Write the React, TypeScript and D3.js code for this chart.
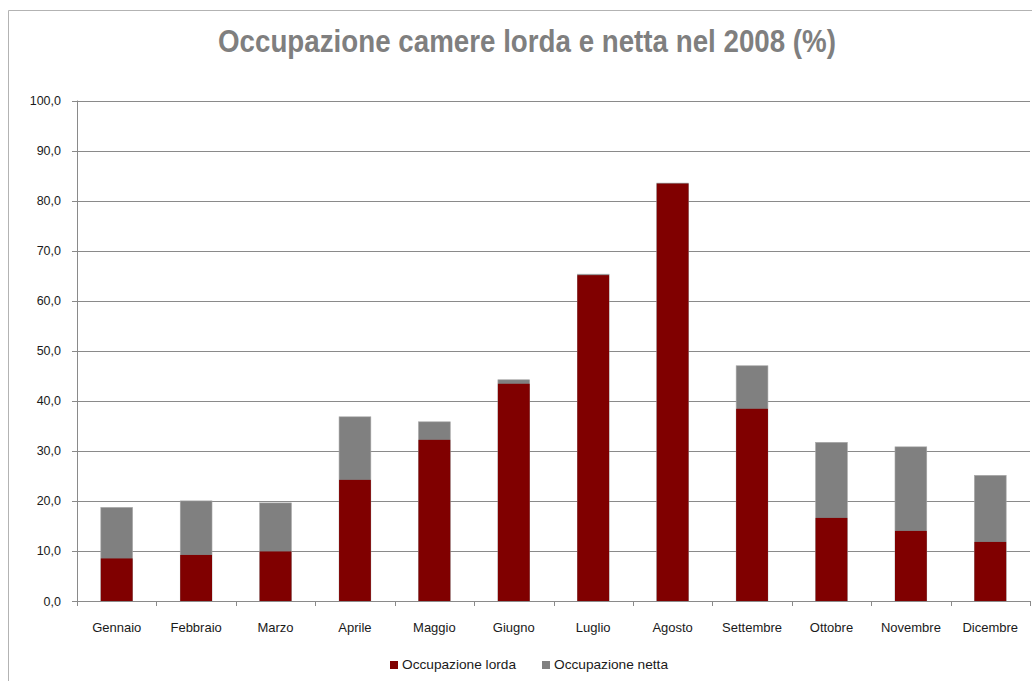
import * as d3 from 'd3';

const months = ['Gennaio', 'Febbraio', 'Marzo', 'Aprile', 'Maggio', 'Giugno', 'Luglio', 'Agosto', 'Settembre', 'Ottobre', 'Novembre', 'Dicembre'];
const lorda = [8.5, 9.2, 9.9, 24.2, 32.2, 43.4, 65.1, 83.4, 38.4, 16.6, 14.0, 11.8];
const netta = [18.7, 20.0, 19.6, 36.8, 35.8, 44.2, 65.3, 83.5, 47.0, 31.7, 30.8, 25.1];
const yTicks = [0, 10, 20, 30, 40, 50, 60, 70, 80, 90, 100];

const W = 1032, H = 681;
const margin = { left: 77, right: 2, top: 100.5, bottom: 80 };
const font = '"Liberation Sans", Arial, sans-serif';

export default function App() {
    const x = d3.scaleBand()
        .domain(months)
        .range([margin.left, W - margin.right])
        .paddingInner(0.6)
        .paddingOuter(0.3);

    const y = d3.scaleLinear()
        .domain([0, 100])
        .range([H - margin.bottom, margin.top]);

    const step = x.step();
    const x0 = margin.left, x1 = W - margin.right;
    const fmt = (v: number) => v.toFixed(1).replace('.', ',');

    return (
        <svg width={W} height={H} style={{ position: 'absolute', left: 0, top: 0 }} fontFamily={font}>
            <rect x={0} y={0} width={W} height={H} fill="#fff" />
            {/* outer frame */}
            <path d={`M8.5,${H} V10.5 H${W}`} fill="none" stroke="#b3b3b3" />

            <text x={527} y={52} textAnchor="middle" fontSize={32} fontWeight="bold" fill="#7f7f7f"
                textLength={618} lengthAdjust="spacingAndGlyphs">
                Occupazione camere lorda e netta nel 2008 (%)
            </text>

            {/* gridlines + y labels */}
            {yTicks.map(t => (
                <g key={t}>
                    {t > 0 && <line x1={x0} x2={x1} y1={Math.round(y(t)) + 0.5} y2={Math.round(y(t)) + 0.5} stroke="#8a8a8a" />}
                    <line x1={x0 - 5} x2={x0} y1={Math.round(y(t)) + 0.5} y2={Math.round(y(t)) + 0.5} stroke="#8a8a8a" />
                    <text x={61} y={y(t) + 4.5} textAnchor="end" fontSize={12.5} fill="#1a1a1a">{fmt(t)}</text>
                </g>
            ))}

            {/* bars: netta behind, lorda in front */}
            {months.map((m, i) => (
                <g key={m}>
                    <rect x={x(m)} y={y(netta[i])} width={x.bandwidth()} height={y(0) - y(netta[i])} fill="#808080" stroke="#a6a6a6" strokeWidth={0.6} />
                    <rect x={x(m)} y={y(lorda[i])} width={x.bandwidth()} height={y(0) - y(lorda[i])} fill="#800000" />
                </g>
            ))}

            {/* axes */}
            <line x1={x0 + 0.5} x2={x0 + 0.5} y1={y(100)} y2={y(0)} stroke="#8a8a8a" />
            <line x1={x0} x2={x1} y1={Math.round(y(0)) + 0.5} y2={Math.round(y(0)) + 0.5} stroke="#8a8a8a" />
            {d3.range(months.length + 1).map(i => (
                <line key={i} x1={Math.round(x0 + i * step) + 0.5} x2={Math.round(x0 + i * step) + 0.5}
                    y1={y(0)} y2={y(0) + 5} stroke="#8a8a8a" />
            ))}
            {months.map(m => (
                <text key={m} x={x(m)! + x.bandwidth() / 2} y={632} textAnchor="middle" fontSize={13} fill="#1a1a1a">{m}</text>
            ))}

            {/* legend */}
            <rect x={390} y={661} width={8} height={8} fill="#800000" />
            <text x={402} y={669} fontSize={13} fill="#1a1a1a" textLength={114} lengthAdjust="spacingAndGlyphs">Occupazione lorda</text>
            <rect x={542} y={661} width={8} height={8} fill="#808080" />
            <text x={554} y={669} fontSize={13} fill="#1a1a1a" textLength={114} lengthAdjust="spacingAndGlyphs">Occupazione netta</text>
        </svg>
    );
}
